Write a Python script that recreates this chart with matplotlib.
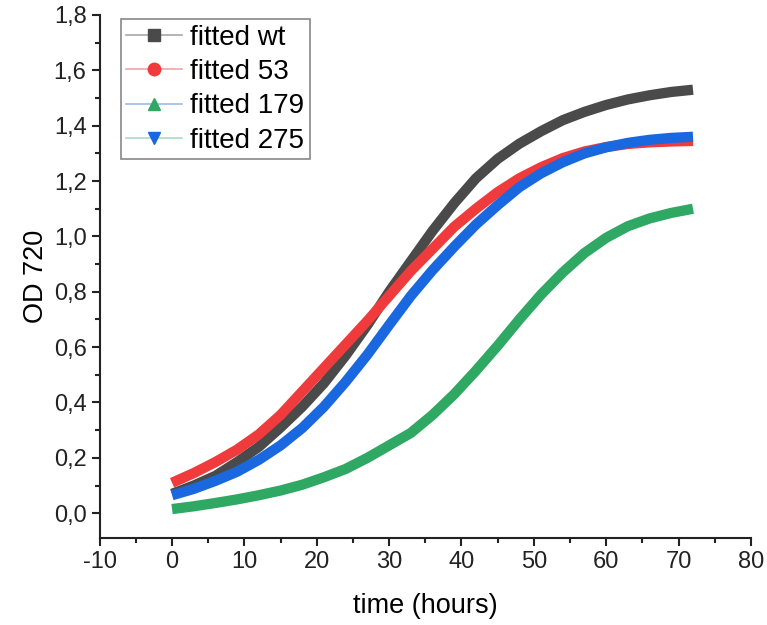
import matplotlib

matplotlib.use("Agg")

import matplotlib.pyplot as plt
from matplotlib.ticker import FuncFormatter, MultipleLocator

plt.rcParams["font.family"] = ["Liberation Sans", "DejaVu Sans"]

# values (every 3 h)
time_h = [0, 3, 6, 9, 12, 15, 18, 21, 24, 27, 30, 33, 36, 39, 42, 45, 48, 51, 54, 57, 60, 63, 66, 69, 72]
od_wt = [0.07, 0.10, 0.135, 0.185, 0.24, 0.31, 0.385, 0.47, 0.57, 0.68, 0.80, 0.91, 1.02, 1.12, 1.21,
         1.28, 1.335, 1.38, 1.42, 1.45, 1.475, 1.495, 1.51, 1.522, 1.53]
od_53 = [0.11, 0.145, 0.185, 0.23, 0.285, 0.355, 0.44, 0.525, 0.61, 0.695, 0.785, 0.875, 0.955, 1.035, 1.10,
         1.16, 1.21, 1.25, 1.283, 1.307, 1.323, 1.334, 1.34, 1.343, 1.345]
od_179 = [0.015, 0.025, 0.037, 0.05, 0.065, 0.082, 0.103, 0.13, 0.16, 0.20, 0.245, 0.29, 0.355, 0.43, 0.515,
          0.605, 0.70, 0.79, 0.87, 0.94, 0.995, 1.037, 1.065, 1.085, 1.10]
od_275 = [0.065, 0.088, 0.117, 0.15, 0.193, 0.245, 0.308, 0.385, 0.475, 0.573, 0.68, 0.785, 0.878, 0.963, 1.043,
          1.113, 1.178, 1.228, 1.268, 1.30, 1.322, 1.338, 1.349, 1.356, 1.36]

series = [
    ("fitted wt", od_wt, "#4a4a4a", "#a8a8a8", "s"),
    ("fitted 53", od_53, "#ef3b3b", "#f5a3ab", "o"),
    ("fitted 179", od_179, "#2ea862", "#9dbbe3", "^"),
    ("fitted 275", od_275, "#1a68e0", "#a9dcc2", "v"),
]

fig = plt.figure(figsize=(7.67, 6.25), dpi=100)
ax = fig.add_axes([0.130, 0.139, 0.849, 0.837])

handles = []
for label, values, color, legend_line, marker in series:
    ax.plot(time_h, values, color=color, lw=7.4, solid_capstyle="butt", solid_joinstyle="round")
    (h,) = ax.plot([], [], color=legend_line, lw=1.2, marker=marker, ms=9,
                   markerfacecolor=color, markeredgecolor=color, label=label)
    handles.append(h)

ax.set_xlim(-10, 80)
ax.set_ylim(-0.09, 1.8)
ax.xaxis.set_major_locator(MultipleLocator(10))
ax.xaxis.set_minor_locator(MultipleLocator(5))
ax.yaxis.set_major_locator(MultipleLocator(0.2))
ax.yaxis.set_minor_locator(MultipleLocator(0.1))
ax.xaxis.set_major_formatter(FuncFormatter(lambda v, p: f"{v:.0f}"))
ax.yaxis.set_major_formatter(FuncFormatter(lambda v, p: f"{v:.1f}".replace(".", ",")))

for side in ["top", "right"]:
    ax.spines[side].set_visible(False)
for side in ["left", "bottom"]:
    ax.spines[side].set_linewidth(1.5)
    ax.spines[side].set_color("#222222")

ax.tick_params(which="major", direction="out", length=6, width=1.5, labelsize=17, colors="#222222")
ax.tick_params(which="minor", direction="out", length=3.5, width=1.5, colors="#222222")

ax.set_xlabel("time (hours)", fontsize=19.5, labelpad=14)
ax.set_ylabel("OD 720", fontsize=19.5, labelpad=3)

leg = ax.legend(handles=handles, loc="upper left", bbox_to_anchor=(0.032, 0.992), borderaxespad=0,
                fontsize=20, handlelength=2.0, handletextpad=0.3, labelspacing=0.3,
                borderpad=0.2, fancybox=False, framealpha=1)
leg.get_frame().set_edgecolor("#888888")
leg.get_frame().set_linewidth(1.2)

fig.savefig("out.png", dpi=100)
plt.close(fig)
